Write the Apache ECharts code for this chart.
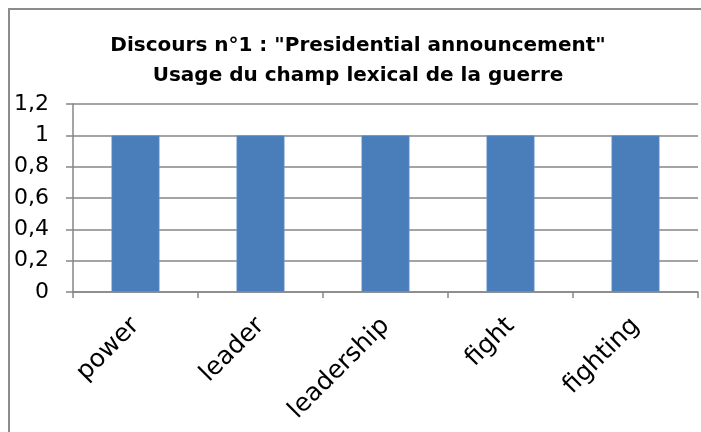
<!DOCTYPE html>
<html>
<head>
<meta charset="utf-8">
<script src="https://cdn.jsdelivr.net/npm/echarts@6/dist/echarts.min.js"></script>
<style>
html,body{margin:0;padding:0;background:#fff;}
#chart{width:701px;height:432px;}
</style>
</head>
<body>
<div id="chart"></div>
<script>
const categories = ["power", "leader", "leadership", "fight", "fighting"];
const values = [1, 1, 1, 1, 1];
const titleLines = ['Discours n°1 : "Presidential announcement"', 'Usage du champ lexical de la guerre'];
const yMin = 0, yMax = 1.2, yStep = 0.2;

const chart = echarts.init(document.getElementById('chart'), null, {renderer: 'canvas'});
const FONT = 'DejaVu Sans';
chart.setOption({
  backgroundColor: '#fff',
  animation: false,
  title: {
    text: titleLines.join('\n'),
    left: 353, top: 26, textAlign: 'center',
    textStyle: {fontFamily: FONT, fontWeight: 'bold', fontSize: 20, color: '#000', lineHeight: 30}
  },
  graphic: [{
    type: 'polyline',
    shape: {points: [[9, 440], [9, 9], [710, 9]]},
    style: {stroke: '#8c8c8c', lineWidth: 2, fill: null}
  }],
  grid: {left: 73, top: 104, right: 3, bottom: 140, containLabel: false},
  xAxis: {
    type: 'category',
    data: categories,
    axisLine: {lineStyle: {color: '#868686', width: 1.5}},
    axisTick: {show: true, length: 6, lineStyle: {color: '#868686', width: 1.5}},
    axisLabel: {rotate: 45, margin: 30, fontFamily: FONT, fontSize: 25, color: '#000', interval: 0}
  },
  yAxis: {
    type: 'value',
    min: yMin, max: yMax, interval: yStep,
    axisLine: {show: true, lineStyle: {color: '#868686', width: 1.5}},
    axisTick: {show: true, length: 7, lineStyle: {color: '#868686', width: 1.5}},
    splitLine: {show: true, lineStyle: {color: '#868686', width: 1.5}},
    axisLabel: {
      margin: 24, fontFamily: FONT, fontSize: 22, color: '#000',
      formatter: v => String(+v.toFixed(1)).replace('.', ',')
    }
  },
  series: [{
    type: 'bar',
    data: values,
    barWidth: '38.4%',
    itemStyle: {color: '#4a7ebb', borderColor: '#7aa3d4', borderWidth: 0.5}
  }]
});
</script>
</body>
</html>
